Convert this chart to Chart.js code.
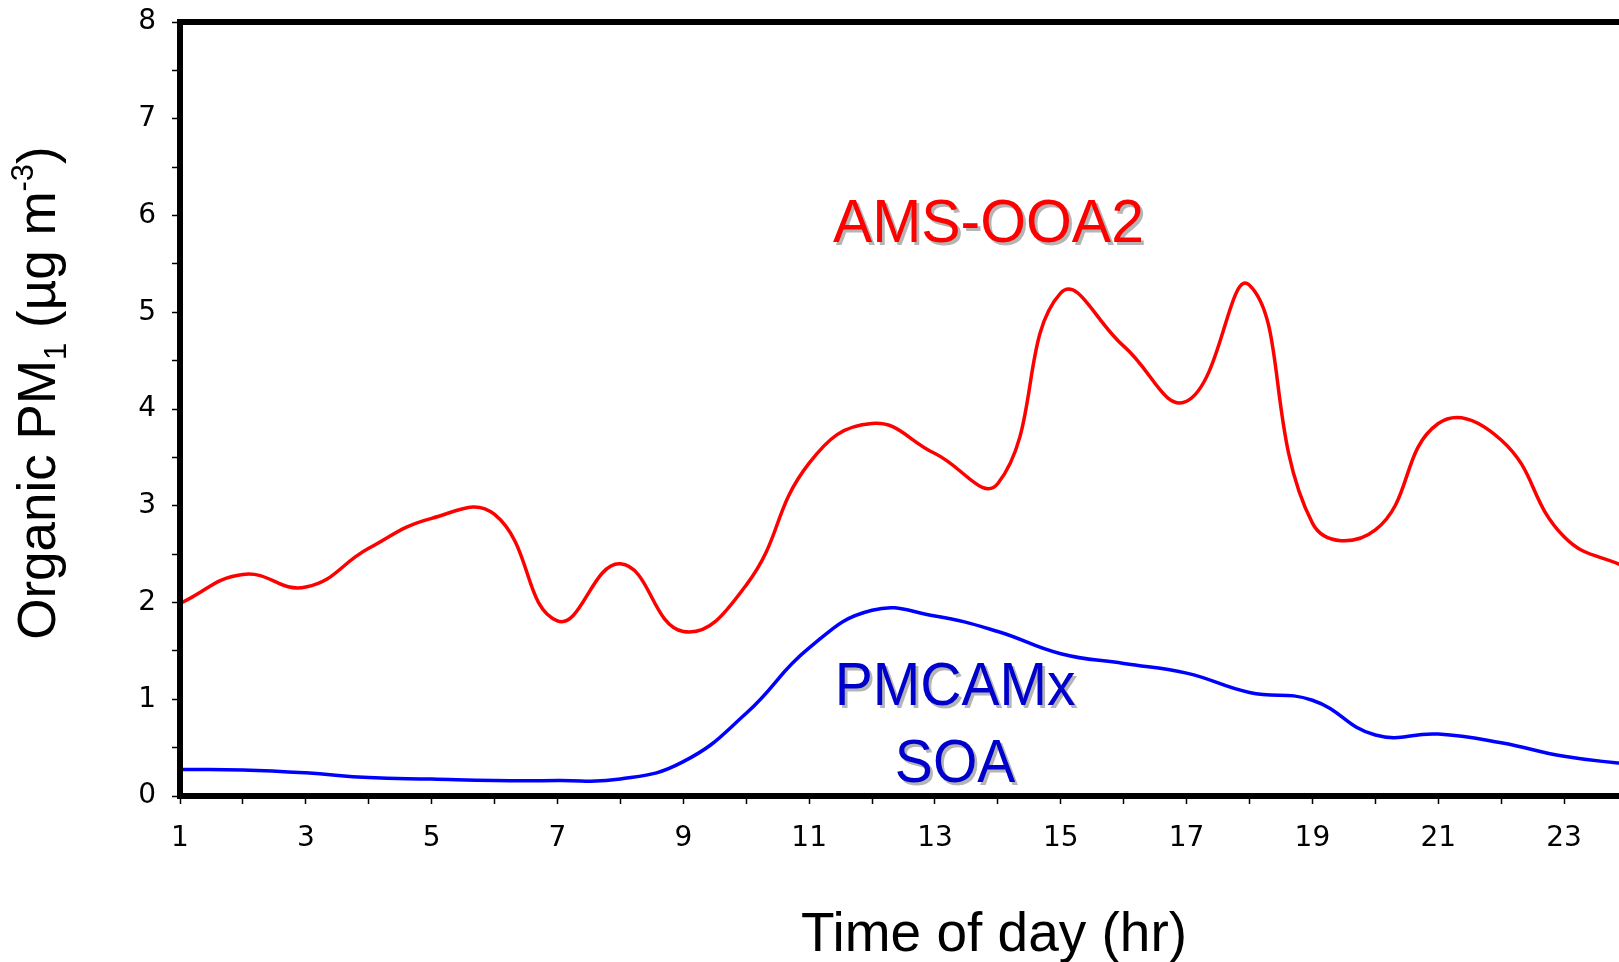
<!DOCTYPE html>
<html>
<head>
<meta charset="utf-8">
<script src="https://cdn.jsdelivr.net/npm/chart.js@4/dist/chart.umd.min.js"></script>
<style>
  html, body { margin: 0; padding: 0; background: #ffffff; overflow: hidden; }
  #wrap { position: absolute; left: 0; top: 0; width: 1680px; height: 962px; }
</style>
</head>
<body>
<div id="wrap"><canvas id="chart"></canvas></div>
<script>
// Hour of day (x) and diurnal organic PM1 concentrations (µg m-3)
const hours = [1, 2, 3, 4, 5, 6, 7, 8, 9, 10, 11, 12, 13, 14, 15, 16, 17, 18, 19, 20, 21, 22, 23, 24];
const amsOoa2 = [1.99, 2.29, 2.16, 2.56, 2.87, 2.91, 1.81, 2.40, 1.70, 2.18, 3.44, 3.85,
                 3.54, 3.23, 5.20, 4.65, 4.08, 5.28, 2.82, 2.75, 3.85, 3.68, 2.68, 2.36];
const pmcamxSoa = [0.275, 0.27, 0.24, 0.19, 0.175, 0.16, 0.16, 0.175, 0.355, 0.855, 1.53, 1.92,
                   1.86, 1.70, 1.47, 1.37, 1.27, 1.07, 0.99, 0.63, 0.64, 0.55, 0.41, 0.33];
const xLabelHours = [1, 3, 5, 7, 9, 11, 13, 15, 17, 19, 21, 23];
const yLabelValues = [0, 1, 2, 3, 4, 5, 6, 7, 8];

// In-plot series labels, anchored in data units: [hour, value]
const seriesLabels = [
  { lines: ['AMS-OOA2'], at: [[13.85, 5.73]], color: '#ff0000' },
  { lines: ['PMCAMx', 'SOA'], at: [[13.32, 0.94], [13.32, 0.145]], color: '#0000cc' }
];

const FONT = '"Liberation Sans", Arial, sans-serif';
const TICK_FONT = '"DejaVu Sans", Verdana, sans-serif';

function toPoints(values) {
  return hours.map((h, i) => ({ x: h, y: values[i] }));
}

const framePlugin = {
  id: 'frame',
  afterDatasetsDraw(chart) {
    const { ctx, chartArea: a } = chart;
    ctx.save();
    ctx.strokeStyle = '#000000';
    ctx.lineWidth = 6;
    ctx.lineJoin = 'miter';
    ctx.strokeRect(a.left, a.top, a.right - a.left, a.bottom - a.top);
    ctx.restore();
  }
};

const textPlugin = {
  id: 'texts',
  afterDraw(chart) {
    const { ctx, scales } = chart;
    ctx.save();

    // Series labels with a soft drop shadow
    ctx.textAlign = 'center';
    ctx.textBaseline = 'alphabetic';
    ctx.font = '62px ' + FONT;
    seriesLabels.forEach(lab => {
      lab.lines.forEach((txt, k) => {
        const px = scales.x.getPixelForValue(lab.at[k][0]);
        const py = scales.y.getPixelForValue(lab.at[k][1]);
        ctx.save();
        ctx.translate(px, py);
        ctx.scale(lab.lines.length > 1 ? 0.92 : 0.95, 1);
        ctx.fillStyle = 'rgba(120,120,120,0.55)';
        ctx.fillText(txt, 3, 3);
        ctx.fillStyle = lab.color;
        ctx.fillText(txt, 0, 0);
        ctx.restore();
      });
    });

    // X axis title
    ctx.fillStyle = '#000000';
    ctx.font = '55px ' + FONT;
    ctx.textAlign = 'center';
    ctx.fillText('Time of day (hr)', 994, 951);

    // Y axis title with subscript and superscript, rotated
    const parts = [
      { t: 'Organic PM', size: 53, dy: 0 },
      { t: '1', size: 31, dy: 11 },
      { t: ' (µg m', size: 53, dy: 0 },
      { t: '-3', size: 31, dy: -22 },
      { t: ')', size: 53, dy: 0 }
    ];
    let total = 0;
    parts.forEach(p => { ctx.font = p.size + 'px ' + FONT; p.w = ctx.measureText(p.t).width; total += p.w; });
    ctx.translate(55, 393);
    ctx.rotate(-Math.PI / 2);
    ctx.textAlign = 'left';
    let cx = -total / 2;
    parts.forEach(p => {
      ctx.font = p.size + 'px ' + FONT;
      ctx.fillText(p.t, cx, p.dy);
      cx += p.w;
    });
    ctx.restore();
  }
};

new Chart(document.getElementById('chart'), {
  type: 'line',
  data: {
    datasets: [
      {
        label: 'AMS-OOA2',
        data: toPoints(amsOoa2),
        borderColor: '#ff0000',
        borderWidth: 3.5,
        pointRadius: 0,
        tension: 0.45,
        fill: false
      },
      {
        label: 'PMCAMx SOA',
        data: toPoints(pmcamxSoa),
        borderColor: '#0000ff',
        borderWidth: 3.5,
        pointRadius: 0,
        tension: 0.45,
        fill: false
      }
    ]
  },
  options: {
    responsive: true,
    maintainAspectRatio: false,
    devicePixelRatio: 1,
    animation: false,
    layout: { padding: { left: 0, top: 22, right: 53, bottom: 0 } },
    plugins: { legend: { display: false }, tooltip: { enabled: false }, title: { display: false } },
    scales: {
      x: {
        type: 'linear',
        min: 1,
        max: 24,
        afterFit(scale) { scale.height = 166; },
        border: { display: false },
        grid: { drawOnChartArea: false, drawTicks: true, tickLength: 8, tickColor: '#000000', tickWidth: 1.5 },
        ticks: {
          stepSize: 1,
          autoSkip: false,
          maxRotation: 0,
          padding: 18,
          color: '#000000',
          font: { family: TICK_FONT, size: 28 },
          callback: v => (xLabelHours.includes(v) ? String(v) : '')
        }
      },
      y: {
        min: 0,
        max: 8,
        afterFit(scale) { scale.width = 180; },
        border: { display: false },
        grid: { drawOnChartArea: false, drawTicks: true, tickLength: 8, tickColor: '#000000', tickWidth: 1.5 },
        ticks: {
          stepSize: 0.5,
          autoSkip: false,
          padding: 16,
          color: '#000000',
          font: { family: TICK_FONT, size: 28, lineHeight: 0.3 },
          callback: v => (yLabelValues.includes(v) ? String(v) : '')
        }
      }
    }
  },
  plugins: [framePlugin, textPlugin]
});
</script>
</body>
</html>
